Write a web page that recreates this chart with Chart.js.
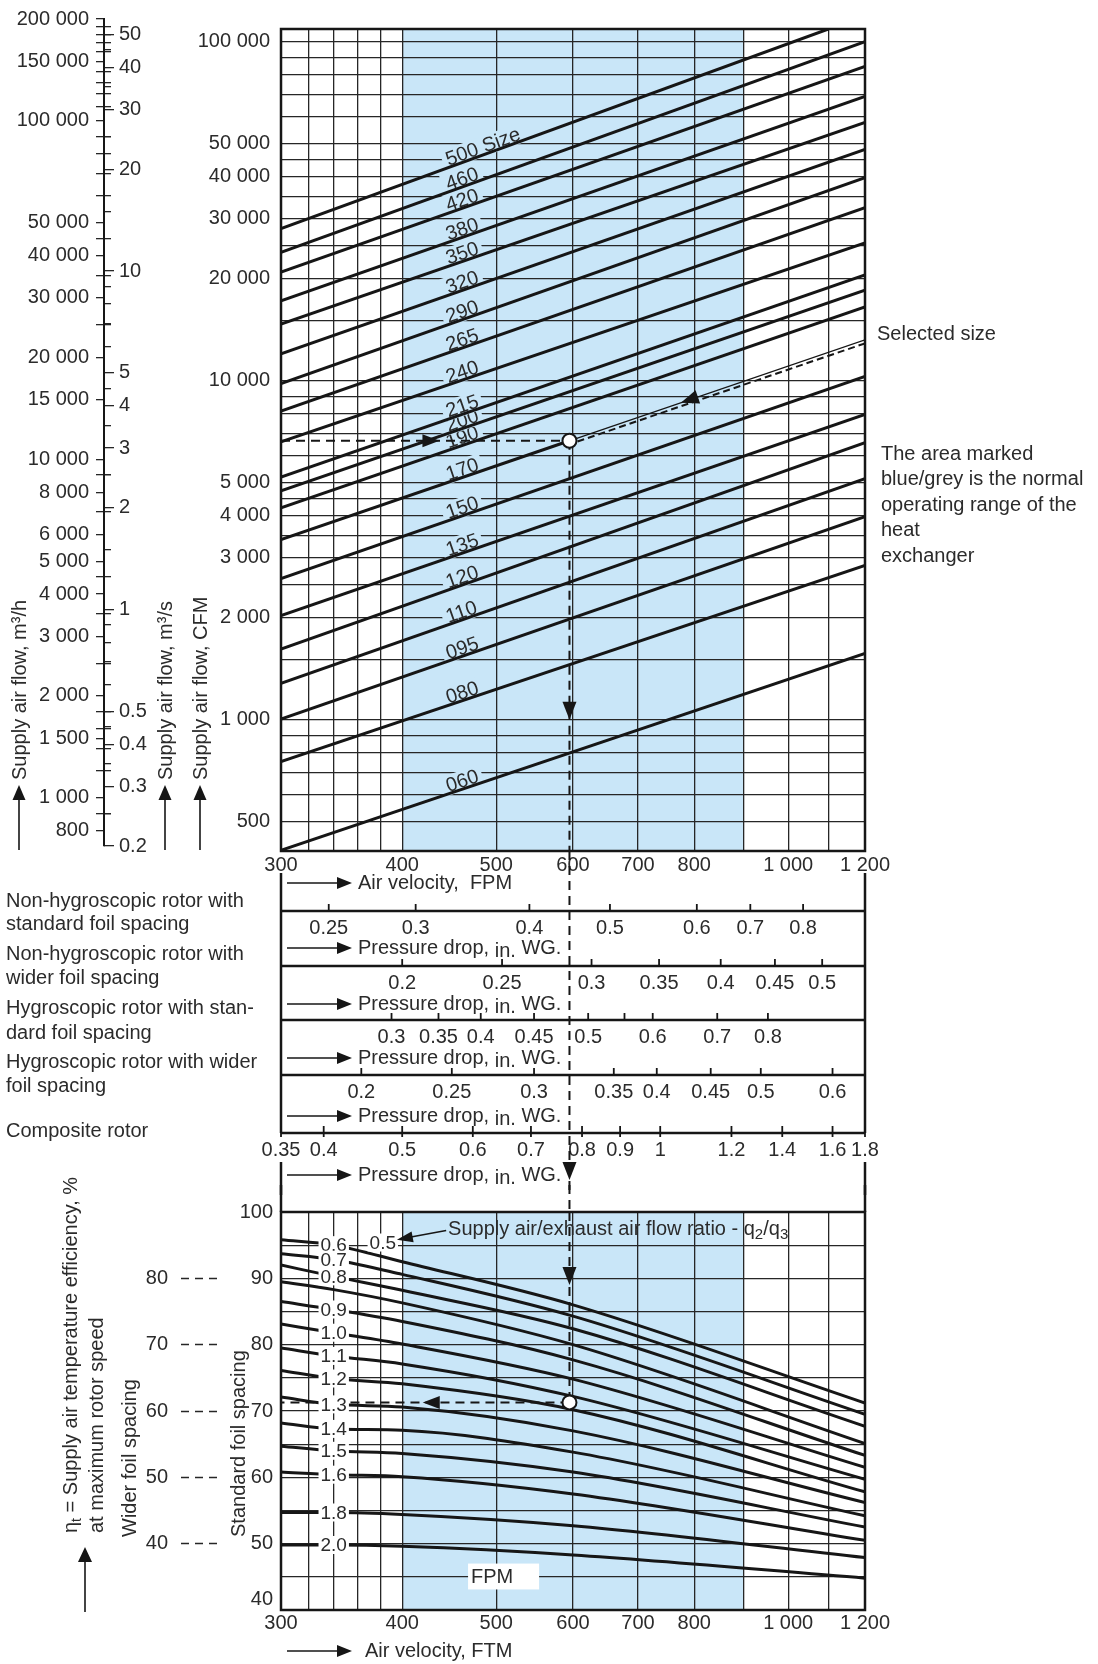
<!DOCTYPE html>
<html>
<head>
<meta charset="utf-8">
<title>Rotor selection diagram</title>
<script src="https://cdn.jsdelivr.net/npm/chart.js@4.4.1/dist/chart.umd.min.js"></script>
<style>
  html, body { margin: 0; padding: 0; background: #fff; }
  #page { position: relative; width: 1098px; height: 1664px; overflow: hidden;
          font-family: "Liberation Sans", Arial, sans-serif; color: #2b2b2b; }
  #page canvas { position: absolute; }
  .t { position: absolute; white-space: nowrap; font-size: 20px; line-height: 24px; }
  .v { position: absolute; white-space: nowrap; font-size: 20px; line-height: 24px;
       transform: rotate(-90deg); transform-origin: 0 0; }
  .v sub { font-size: 14px; vertical-align: -4px; line-height: 0; }
</style>
</head>
<body>
<div id="page">
  <canvas id="flowChart" width="1098" height="1195" style="left:0;top:0"></canvas>
  <canvas id="effChart" width="1098" height="479" style="left:0;top:1185px"></canvas>
  <canvas id="unitChart" width="262" height="880" style="left:0;top:0"></canvas>

  <div class="v" style="left:7px;top:780px">Supply air flow, m³/h</div>
  <div class="v" style="left:153px;top:780px">Supply air flow, m³/s</div>
  <div class="v" style="left:188px;top:780px">Supply air flow, CFM</div>

  <div class="t" style="left:877px;top:321px">Selected size</div>
  <div class="t" style="left:881px;top:441px">The area marked</div>
  <div class="t" style="left:881px;top:466px">blue/grey is the normal</div>
  <div class="t" style="left:881px;top:492px">operating range of the</div>
  <div class="t" style="left:881px;top:517px">heat</div>
  <div class="t" style="left:881px;top:543px">exchanger</div>

  <div class="t" style="left:6px;top:888px">Non-hygroscopic rotor with</div>
  <div class="t" style="left:6px;top:911px">standard foil spacing</div>
  <div class="t" style="left:6px;top:941px">Non-hygroscopic rotor with</div>
  <div class="t" style="left:6px;top:965px">wider foil spacing</div>
  <div class="t" style="left:6px;top:995px">Hygroscopic rotor with stan-</div>
  <div class="t" style="left:6px;top:1020px">dard foil spacing</div>
  <div class="t" style="left:6px;top:1049px">Hygroscopic rotor with wider</div>
  <div class="t" style="left:6px;top:1073px">foil spacing</div>
  <div class="t" style="left:6px;top:1118px">Composite rotor</div>

  <div class="v" style="left:58px;top:1533px">η<sub>t</sub> = Supply air temperature efficiency, %</div>
  <div class="v" style="left:84px;top:1533px">at maximum rotor speed</div>
  <div class="v" style="left:117px;top:1537px">Wider foil spacing</div>
  <div class="v" style="left:226px;top:1537px">Standard foil spacing</div>
</div>

<script>
const FONT = '"Liberation Sans", Arial, sans-serif';
const INK = '#161616';
const TEXT = '#2b2b2b';
const GRID = '#262626';
const BAND = '#c9e6f8';

// air velocity, FPM - same horizontal scale for both diagrams
const velocityGrid = [300, 320, 340, 360, 380, 400, 500, 600, 700, 800, 900, 1000, 1100, 1200];
const velocityLabels = [300, 400, 500, 600, 700, 800, 1000, 1200];
const operatingRange = [400, 900];

// supply air flow, CFM
const flowRange = [410, 109000];
const flowGrid = [500, 600, 700, 800, 900, 1000, 1500, 2000, 2500, 3000, 3500, 4000, 4500, 5000,
  6000, 7000, 8000, 9000, 10000, 15000, 20000, 25000, 30000, 35000, 40000, 45000, 50000,
  60000, 70000, 80000, 90000, 100000];
const flowLabels = [500, 1000, 2000, 3000, 4000, 5000, 10000, 20000, 30000, 40000, 50000, 100000];

// rotor sizes: flow at 300 FPM and where each line ends
const sizeNames = ['060', '080', '095', '110', '120', '135', '150', '170', '190', '200',
  '215', '240', '265', '290', '320', '350', '380', '420', '460', '500 Size'];
const sizeFlowAt300 = [412, 752, 1005, 1280, 1615, 2030, 2610, 3400, 4220, 4730,
  5200, 6600, 8130, 9800, 12000, 14700, 17200, 20900, 23900, 28100];
const sizeEndVelocity = [1200, 1200, 1200, 1200, 1200, 1200, 1200, 1200, 1200, 1200,
  1200, 1200, 1200, 1200, 1200, 1200, 1200, 1200, 1200, 1100];
const sizeEndFlow = [1570, 2850, 3970, 5140, 6560, 7950, 10300, 13200, 16500, 18500,
  20500, 25500, 32400, 39700, 48100, 57800, 69000, 84500, 100000, 109000];
const sizeLabelVelocity = 447;

// worked example
const selectedSize = '170';
const selectedVelocity = 595;
const selectedFlow = 6650;
const selectedEfficiency = 71.3;

// left unit scales
const CFM_PER_M3H = 1 / 1.699;
const m3hRange = [720, 200000];
const m3hLabels = [200000, 150000, 100000, 50000, 40000, 30000, 20000, 15000, 10000, 8000,
  6000, 5000, 4000, 3000, 2000, 1500, 1000, 800];
const m3hMinor = [190000, 180000, 170000, 160000, 140000, 130000, 120000, 110000, 90000, 80000,
  70000, 60000, 45000, 35000, 25000, 9000, 7000, 4500, 3500, 2500, 1800, 1600, 1400, 1200, 900];
const m3sLabels = [50, 40, 30, 20, 10, 5, 4, 3, 2, 1, 0.5, 0.4, 0.3, 0.2];
const m3sMinor = [45, 35, 25, 15, 9, 8, 7, 6, 4.5, 3.5, 2.5, 1.5, 0.9, 0.8, 0.7, 0.6, 0.45, 0.35, 0.25];

// pressure drop scales (in. WG.) and the air velocity each mark sits at
const row1Labels = ['0.25', '0.3', '0.4', '0.5', '0.6', '0.7', '0.8'];
const row1Velocity = [336, 413, 541, 655, 805, 914, 1036];
const row2Labels = ['0.2', '0.25', '0.3', '0.35', '0.4', '0.45', '0.5'];
const row2Velocity = [400, 507, 627, 736, 852, 969, 1084];
const row3Labels = ['0.3', '0.35', '0.4', '0.45', '0.5', '', '0.6', '0.7', '0.8'];
const row3Velocity = [390, 436, 482, 547, 622, 678, 725, 845, 953];
const row4Labels = ['0.2', '0.25', '0.3', '0.35', '0.4', '0.45', '0.5', '0.6'];
const row4Velocity = [363, 450, 547, 661, 732, 832, 937, 1111];
const row5Labels = ['0.35', '0.4', '0.5', '0.6', '0.7', '0.8', '0.9', '1', '1.2', '1.4', '1.6', '1.8'];
const row5Velocity = [300, 332, 400, 473, 543, 613, 671, 738, 874, 986, 1111, 1200];

// temperature efficiency, % (standard foil spacing) per flow ratio q2/q3
const ratioNames = ['0.6', '0.7', '0.8', '', '0.9', '1.0', '1.1', '1.2', '1.3', '1.4', '1.5', '1.6', '1.8', '2.0'];
const ratioVelocity = [300, 340, 400, 600, 1200];
const effR06 = [95.8, 95.0, 92.5, 86.0, 71.2];
const effR07 = [93.7, 92.8, 90.6, 84.3, 69.5];
const effR08 = [92.0, 90.3, 88.2, 82.4, 67.7];
const effRxx = [89.5, 88.3, 86.3, 80.0, 65.1];
const effR09 = [86.5, 85.3, 83.5, 77.7, 63.3];
const effR10 = [83.1, 81.8, 80.1, 74.8, 61.5];
const effR11 = [79.5, 78.3, 77.1, 72.2, 59.7];
const effR12 = [76.1, 74.9, 74.1, 70.2, 57.8];
const effR13 = [72.1, 71.0, 70.6, 67.0, 56.2];
const effR14 = [68.2, 67.3, 67.1, 63.8, 54.2];
const effR15 = [64.7, 64.0, 63.6, 60.8, 52.5];
const effR16 = [60.8, 60.4, 60.1, 57.5, 50.5];
const effR18 = [54.7, 54.7, 54.4, 52.7, 47.9];
const effR20 = [49.8, 49.8, 49.6, 48.3, 44.8];
const effSeries = [effR06, effR07, effR08, effRxx, effR09, effR10, effR11, effR12, effR13,
  effR14, effR15, effR16, effR18, effR20];

const effGrid = [40, 45, 50, 55, 60, 65, 70, 75, 80, 85, 90, 95, 100];
const effLabels = [40, 50, 60, 70, 80, 90, 100];
const widerLabels = [40, 50, 60, 70, 80];

const fmt = v => v >= 1000 ? String(v).replace(/\B(?=(\d{3})+(?!\d))/g, ' ') : String(v);

function arrowHead(ctx, x, y, angle, len, half) {
    ctx.save();
    ctx.translate(x, y);
    ctx.rotate(angle);
    ctx.beginPath();
    ctx.moveTo(0, 0);
    ctx.lineTo(-len, -half);
    ctx.lineTo(-len, half);
    ctx.closePath();
    ctx.fill();
    ctx.restore();
}

function line(ctx, x0, y0, x1, y1) {
    ctx.beginPath();
    ctx.moveTo(x0, y0);
    ctx.lineTo(x1, y1);
    ctx.stroke();
}

// "----> text" rows under the diagrams
function velocityRow(ctx, left, y, parts, textOffset) {
    ctx.save();
    ctx.strokeStyle = INK;
    ctx.fillStyle = INK;
    ctx.lineWidth = 1.6;
    line(ctx, left + 6, y, left + 58, y);
    arrowHead(ctx, left + 71, y, 0, 15, 6);
    ctx.fillStyle = TEXT;
    ctx.font = `20px ${FONT}`;
    ctx.textBaseline = 'middle';
    let cx = left + textOffset;
    parts.forEach(([txt, dy]) => {
        ctx.fillText(txt, cx, y + dy);
        cx += ctx.measureText(txt).width;
    });
    ctx.restore();
}

const bandPlugin = {
    id: 'band',
    beforeDraw(chart) {
        const { ctx, chartArea: a, scales: { x } } = chart;
        const x0 = x.getPixelForValue(operatingRange[0]);
        const x1 = x.getPixelForValue(operatingRange[1]);
        ctx.save();
        ctx.fillStyle = BAND;
        ctx.fillRect(x0, a.top, x1 - x0, a.bottom - a.top);
        ctx.restore();
    }
};

const framePlugin = {
    id: 'frame',
    afterDraw(chart) {
        const { ctx, chartArea: a } = chart;
        ctx.save();
        ctx.strokeStyle = INK;
        ctx.lineWidth = 2.5;
        ctx.strokeRect(a.left, a.top, a.right - a.left, a.bottom - a.top);
        ctx.restore();
    }
};

const tickFont = { family: FONT, size: 20 };

// --- top diagram: air flow against air velocity ---
const selectedIndex = sizeNames.indexOf(selectedSize);
const sizeDatasets = sizeNames.map((name, i) => {
    const pts = [{ x: 300, y: sizeFlowAt300[i] }];
    if (i === selectedIndex) pts.push({ x: selectedVelocity, y: selectedFlow });
    pts.push({ x: sizeEndVelocity[i], y: sizeEndFlow[i] });
    const ds = {
        label: name, data: pts, showLine: true, borderColor: INK, borderWidth: 3,
        pointRadius: 0, borderCapStyle: 'butt', order: 3
    };
    if (i === selectedIndex) {
        ds.segment = { borderWidth: c => c.p0DataIndex === 0 ? 3 : 1.3 };
    }
    return ds;
});

const flowExtras = {
    id: 'flowExtras',
    beforeDatasetsDraw(chart) {
        // size labels ride just above their lines, hiding the grid behind them
        const { ctx, scales: { x } } = chart;
        ctx.save();
        ctx.font = `20px ${FONT}`;
        ctx.textBaseline = 'middle';
        sizeNames.forEach((name, i) => {
            const pts = chart.getDatasetMeta(i).data;
            const p0 = pts[0], p1 = pts[pts.length - 1];
            const ax = x.getPixelForValue(sizeLabelVelocity);
            const t = (ax - p0.x) / (p1.x - p0.x);
            const ay = p0.y + t * (p1.y - p0.y);
            const ang = Math.atan2(p1.y - p0.y, p1.x - p0.x);
            const w = ctx.measureText(name).width;
            ctx.save();
            ctx.translate(ax, ay);
            ctx.rotate(ang);
            ctx.translate(0, -8);
            ctx.fillStyle = BAND;
            ctx.fillRect(-4, -10, w + 8, 20);
            ctx.fillStyle = TEXT;
            ctx.fillText(name, 0, 1);
            ctx.restore();
        });
        ctx.restore();
    },
    afterDatasetsDraw(chart) {
        const { ctx, chartArea: a, scales: { x, y } } = chart;
        ctx.save();
        ctx.beginPath();
        ctx.rect(a.left, a.top, a.right - a.left, a.bottom - a.top);
        ctx.clip();

        // selected size: dashed companion line from the circle to the edge
        const sel = chart.getDatasetMeta(selectedIndex).data;
        const c = sel[1], e = sel[2];
        ctx.strokeStyle = INK;
        ctx.lineWidth = 2;
        ctx.setLineDash([7, 4]);
        line(ctx, c.x + 8, c.y + 3.5 + 8 * (e.y - c.y) / (e.x - c.x), e.x, e.y + 3.5);
        ctx.setLineDash([]);

        // arrows
        ctx.fillStyle = INK;
        const yf = y.getPixelForValue(selectedFlow);
        arrowHead(ctx, x.getPixelForValue(437), yf, 0, 17, 6.5);
        arrowHead(ctx, x.getPixelForValue(selectedVelocity), y.getPixelForValue(1000), Math.PI / 2, 18, 7);
        const ax = x.getPixelForValue(775);
        const ay = c.y + (ax - c.x) / (e.x - c.x) * (e.y - c.y);
        arrowHead(ctx, ax, ay, Math.atan2(c.y - e.y, c.x - e.x), 18, 7);
        ctx.restore();
    },
    afterDraw(chart) {
        const { ctx, chartArea: a, scales: { x } } = chart;
        const L = x.getPixelForValue(300), R = x.getPixelForValue(1200);
        const xs = x.getPixelForValue(selectedVelocity);
        const rowLineY = [911, 966, 1020, 1075, 1133];
        const rowLabels = [row1Labels, row2Labels, row3Labels, row4Labels, row5Labels];
        const rowVelocity = [row1Velocity, row2Velocity, row3Velocity, row4Velocity, row5Velocity];
        ctx.save();
        ctx.strokeStyle = INK;
        ctx.lineWidth = 2.5;
        [[873, 1133], [1162, chart.height]].forEach(([t, b]) => {
            line(ctx, L, t, L, b);
            line(ctx, R, t, R, b);
        });
        ctx.font = `20px ${FONT}`;
        ctx.textAlign = 'center';
        ctx.textBaseline = 'middle';
        rowLineY.forEach((ry, r) => {
            ctx.lineWidth = 2.5;
            line(ctx, L, ry, R, ry);
            ctx.lineWidth = 1.8;
            rowVelocity[r].forEach((v, k) => {
                const px = x.getPixelForValue(v);
                line(ctx, px, ry - 7, px, r === 4 ? ry + 4 : ry);
                ctx.fillStyle = TEXT;
                ctx.fillText(rowLabels[r][k], px, ry + 17);
            });
        });
        ctx.textAlign = 'left';
        velocityRow(ctx, L, 883, [['Air velocity,  FPM', 0]], 77);
        [948, 1004, 1058, 1116, 1175].forEach(ty =>
            velocityRow(ctx, L, ty, [['Pressure drop, ', 0], ['in.', 3], [' WG.', 0]], 77));

        // example continues down to the efficiency diagram
        ctx.lineWidth = 2;
        ctx.setLineDash([9, 6]);
        line(ctx, xs, a.bottom, xs, chart.height);
        ctx.setLineDash([]);
        ctx.fillStyle = INK;
        arrowHead(ctx, xs, 1180, Math.PI / 2, 18, 7);
        ctx.restore();
    }
};

const flowChart = new Chart(document.getElementById('flowChart'), {
    type: 'scatter',
    data: {
        datasets: [
            ...sizeDatasets,
            {
                data: [{ x: 300, y: selectedFlow }, { x: selectedVelocity, y: selectedFlow }],
                showLine: true, borderColor: INK, borderWidth: 2, borderDash: [9, 6], pointRadius: 0, order: 2
            },
            {
                data: [{ x: selectedVelocity, y: selectedFlow }, { x: selectedVelocity, y: flowRange[0] }],
                showLine: true, borderColor: INK, borderWidth: 2, borderDash: [9, 6], pointRadius: 0, order: 2
            },
            {
                data: [{ x: selectedVelocity, y: selectedFlow }],
                pointRadius: 7, pointBackgroundColor: '#fff', pointBorderColor: INK, pointBorderWidth: 2, order: 1
            }
        ]
    },
    options: {
        responsive: false,
        animation: false,
        devicePixelRatio: 1,
        events: [],
        layout: { padding: { left: 0, top: 29, right: 233, bottom: 0 } },
        plugins: { legend: { display: false }, tooltip: { enabled: false } },
        scales: {
            x: {
                type: 'logarithmic', min: 300, max: 1200, position: 'bottom',
                afterBuildTicks: s => { s.ticks = velocityGrid.map(v => ({ value: v })); },
                afterFit: s => { s.height = 1195 - 851; },
                ticks: {
                    autoSkip: false, maxRotation: 0, minRotation: 0, padding: 2, color: TEXT, font: tickFont,
                    callback: v => velocityLabels.includes(v) ? fmt(v) : ''
                },
                grid: { color: GRID, lineWidth: 1.3, drawTicks: false },
                border: { display: false }
            },
            y: {
                type: 'logarithmic', min: flowRange[0], max: flowRange[1], position: 'left',
                afterBuildTicks: s => { s.ticks = flowGrid.map(v => ({ value: v })); },
                afterFit: s => { s.width = 281; },
                ticks: {
                    autoSkip: false, padding: 11, color: TEXT, font: tickFont,
                    callback: v => flowLabels.includes(v) ? fmt(v) : ''
                },
                grid: { color: GRID, lineWidth: 1.3, drawTicks: false },
                border: { display: false }
            }
        }
    },
    plugins: [bandPlugin, flowExtras, framePlugin]
});

// --- left unit scales, aligned with the CFM scale ---
const flowY = flowChart.scales.y;
const unitTop = flowY.getPixelForValue(m3hRange[1] * CFM_PER_M3H);
const unitBottom = flowY.getPixelForValue(m3hRange[0] * CFM_PER_M3H);
const clear = 'rgba(0,0,0,0)';

const unitArrows = {
    id: 'unitArrows',
    afterDraw(chart) {
        const { ctx } = chart;
        ctx.save();
        ctx.strokeStyle = INK;
        ctx.fillStyle = INK;
        ctx.lineWidth = 1.6;
        [19, 165, 200].forEach(ax => {
            line(ctx, ax, 850, ax, 798);
            arrowHead(ctx, ax, 785, -Math.PI / 2, 15, 6.5);
        });
        ctx.restore();
    }
};

new Chart(document.getElementById('unitChart'), {
    type: 'scatter',
    data: { datasets: [] },
    options: {
        responsive: false,
        animation: false,
        devicePixelRatio: 1,
        events: [],
        layout: { padding: { left: 0, right: 0, top: unitTop, bottom: 880 - unitBottom } },
        plugins: { legend: { display: false }, tooltip: { enabled: false } },
        scales: {
            x: { display: false, min: 0, max: 1 },
            y: {
                type: 'logarithmic', min: m3hRange[0], max: m3hRange[1], position: 'left',
                afterBuildTicks: s => { s.ticks = [...m3hLabels, ...m3hMinor].map(v => ({ value: v })); },
                afterFit: s => { s.width = 104; },
                ticks: {
                    autoSkip: false, padding: 7, color: TEXT, font: tickFont,
                    callback: v => m3hLabels.includes(v) ? fmt(v) : ''
                },
                grid: {
                    color: c => c.tick && m3hLabels.includes(c.tick.value) ? clear : GRID,
                    tickColor: GRID, tickLength: 8, lineWidth: 1.3
                },
                border: { display: true, color: INK, width: 2 }
            },
            y2: {
                type: 'logarithmic', min: m3hRange[0] / 3600, max: m3hRange[1] / 3600, position: 'right',
                afterBuildTicks: s => { s.ticks = [...m3sLabels, ...m3sMinor].map(v => ({ value: v })); },
                afterFit: s => { s.width = 262 - 104 - 7; },
                ticks: {
                    autoSkip: false, padding: 5, color: TEXT, font: tickFont,
                    callback: v => m3sLabels.includes(v) ? String(v) : ''
                },
                grid: {
                    color: GRID, lineWidth: 1.3, tickLength: 3,
                    tickColor: c => c.tick && m3sLabels.includes(c.tick.value) ? GRID : clear
                },
                border: { display: false }
            }
        }
    },
    plugins: [unitArrows]
});

// --- bottom diagram: temperature efficiency against air velocity ---
const EFF_TOP = 1185;
const effMin = effLabels[0];
const effExtras = {
    id: 'effExtras',
    afterDatasetsDraw(chart) {
        const { ctx, chartArea: a, scales: { x, y } } = chart;
        ctx.save();
        ctx.font = `19px ${FONT}`;
        ctx.textAlign = 'center';
        ctx.textBaseline = 'middle';
        ratioNames.forEach((name, i) => {
            if (!name) return;
            const p = chart.getDatasetMeta(i).data[1];
            const w = ctx.measureText(name).width;
            ctx.fillStyle = '#fff';
            ctx.fillRect(p.x - w / 2 - 2, p.y - 9, w + 4, 18);
            ctx.fillStyle = TEXT;
            ctx.fillText(name, p.x, p.y + 1);
        });
        // "0.5" and the flow ratio caption
        const hx = x.getPixelForValue(382), hy = y.getPixelForValue(95.4);
        const w5 = ctx.measureText('0.5').width;
        ctx.fillStyle = '#fff';
        ctx.fillRect(hx - w5 / 2 - 2, hy - 9, w5 + 4, 18);
        ctx.fillStyle = TEXT;
        ctx.fillText('0.5', hx, hy + 1);

        ctx.fillStyle = '#fff';
        const wx0 = x.getPixelForValue(900) + 1, wx1 = x.getPixelForValue(1000) - 1;
        ctx.fillRect(wx0, a.top + 2, wx1 - wx0, y.getPixelForValue(95) - a.top - 4);

        ctx.textAlign = 'left';
        ctx.fillStyle = TEXT;
        let cx = x.getPixelForValue(446);
        const cy = y.getPixelForValue(97.3);
        [['Supply air/exhaust air flow ratio - q', 0, 20], ['2', 5, 15], ['/q', 0, 20], ['3', 5, 15]]
            .forEach(([txt, dy, size]) => {
                ctx.font = `${size}px ${FONT}`;
                ctx.fillText(txt, cx, cy + dy);
                cx += ctx.measureText(txt).width;
            });
        ctx.strokeStyle = INK;
        ctx.fillStyle = INK;
        ctx.lineWidth = 1.5;
        const t0x = x.getPixelForValue(444), t0y = y.getPixelForValue(97.2);
        const t1x = x.getPixelForValue(395), t1y = y.getPixelForValue(95.8);
        line(ctx, t0x, t0y, t1x + 10, t1y - 2);
        arrowHead(ctx, t1x, t1y, Math.atan2(t1y - t0y, t1x - t0x), 16, 5.5);

        // FPM tag
        const fx0 = x.getPixelForValue(467.7), fx1 = x.getPixelForValue(553.6);
        const fy0 = y.getPixelForValue(47.0), fy1 = y.getPixelForValue(43.1);
        ctx.fillStyle = '#fff';
        ctx.fillRect(fx0, fy0, fx1 - fx0, fy1 - fy0);
        ctx.fillStyle = TEXT;
        ctx.font = `20px ${FONT}`;
        ctx.textBaseline = 'middle';
        ctx.fillText('FPM', fx0 + 3, (fy0 + fy1) / 2 + 1);

        // example arrows
        ctx.fillStyle = INK;
        const xs = x.getPixelForValue(selectedVelocity);
        arrowHead(ctx, xs, y.getPixelForValue(89), Math.PI / 2, 18, 7);
        arrowHead(ctx, x.getPixelForValue(420), y.getPixelForValue(selectedEfficiency), Math.PI, 17, 6.5);
        ctx.restore();
    },
    afterDraw(chart) {
        const { ctx, chartArea: a, scales: { x, y } } = chart;
        const L = x.getPixelForValue(300), R = x.getPixelForValue(1200);
        const xs = x.getPixelForValue(selectedVelocity);
        ctx.save();
        ctx.strokeStyle = INK;
        ctx.lineWidth = 2.5;
        line(ctx, L, 0, L, a.top);
        line(ctx, R, 0, R, a.top);
        ctx.lineWidth = 2;
        ctx.setLineDash([9, 6]);
        line(ctx, xs, 0, xs, a.top);
        ctx.setLineDash([]);
        // bottom efficiency label sits a little above its grid line
        ctx.font = `20px ${FONT}`;
        ctx.fillStyle = TEXT;
        ctx.textAlign = 'right';
        ctx.textBaseline = 'middle';
        ctx.fillText(String(effMin), L - 8, y.getPixelForValue(effMin) - 11);
        ctx.textAlign = 'left';
        velocityRow(ctx, L, 1651 - EFF_TOP, [['Air velocity, FTM', 0]], 84);
        ctx.strokeStyle = INK;
        ctx.fillStyle = INK;
        ctx.lineWidth = 1.6;
        line(ctx, 85, 1612 - EFF_TOP, 85, 1560 - EFF_TOP);
        arrowHead(ctx, 85, 1547 - EFF_TOP, -Math.PI / 2, 15, 7);
        ctx.restore();
    }
};

new Chart(document.getElementById('effChart'), {
    type: 'scatter',
    data: {
        datasets: [
            ...effSeries.map((vals, i) => ({
                label: ratioNames[i] || 'ratio',
                data: vals.map((v, k) => ({ x: ratioVelocity[k], y: v })),
                showLine: true, borderColor: INK, borderWidth: 3, pointRadius: 0,
                tension: 0.4, cubicInterpolationMode: 'monotone', order: 3
            })),
            {
                data: [{ x: selectedVelocity, y: 100 }, { x: selectedVelocity, y: selectedEfficiency }],
                showLine: true, borderColor: INK, borderWidth: 2, borderDash: [9, 6], pointRadius: 0, order: 2
            },
            {
                data: [{ x: selectedVelocity, y: selectedEfficiency }, { x: 300, y: selectedEfficiency }],
                showLine: true, borderColor: INK, borderWidth: 2, borderDash: [9, 6], pointRadius: 0, order: 2
            },
            {
                data: [{ x: selectedVelocity, y: selectedEfficiency }],
                pointRadius: 7, pointBackgroundColor: '#fff', pointBorderColor: INK, pointBorderWidth: 2, order: 1
            }
        ]
    },
    options: {
        responsive: false,
        animation: false,
        devicePixelRatio: 1,
        events: [],
        layout: { padding: { left: 0, top: 1212 - EFF_TOP, right: 233, bottom: 0 } },
        plugins: { legend: { display: false }, tooltip: { enabled: false } },
        scales: {
            x: {
                type: 'logarithmic', min: 300, max: 1200, position: 'bottom',
                afterBuildTicks: s => { s.ticks = velocityGrid.map(v => ({ value: v })); },
                afterFit: s => { s.height = 479 - (1610 - EFF_TOP); },
                ticks: {
                    autoSkip: false, maxRotation: 0, minRotation: 0, padding: 1, color: TEXT, font: tickFont,
                    callback: v => velocityLabels.includes(v) ? fmt(v) : ''
                },
                grid: { color: GRID, lineWidth: 1.3, drawTicks: false },
                border: { display: false }
            },
            y: {
                type: 'linear', min: 40, max: 100, position: 'left', weight: 0,
                afterBuildTicks: s => { s.ticks = effGrid.map(v => ({ value: v })); },
                afterFit: s => { s.width = 58; },
                ticks: {
                    autoSkip: false, padding: 8, color: TEXT, font: tickFont,
                    callback: v => effLabels.includes(v) && v !== effMin ? String(v) : ''
                },
                grid: { color: GRID, lineWidth: 1.3, drawTicks: false },
                border: { display: false }
            },
            y2: {
                type: 'linear', min: 30, max: 90, position: 'left', weight: 1,
                afterBuildTicks: s => { s.ticks = widerLabels.map(v => ({ value: v })); },
                afterFit: s => { s.width = 223; },
                ticks: { autoSkip: false, padding: 13, color: TEXT, font: tickFont },
                grid: {
                    drawOnChartArea: false, drawTicks: true, tickLength: 42, tickColor: GRID,
                    tickWidth: 1.5, tickBorderDash: [8, 6]
                },
                border: { display: false }
            }
        }
    },
    plugins: [bandPlugin, effExtras, framePlugin]
});
</script>
</body>
</html>
